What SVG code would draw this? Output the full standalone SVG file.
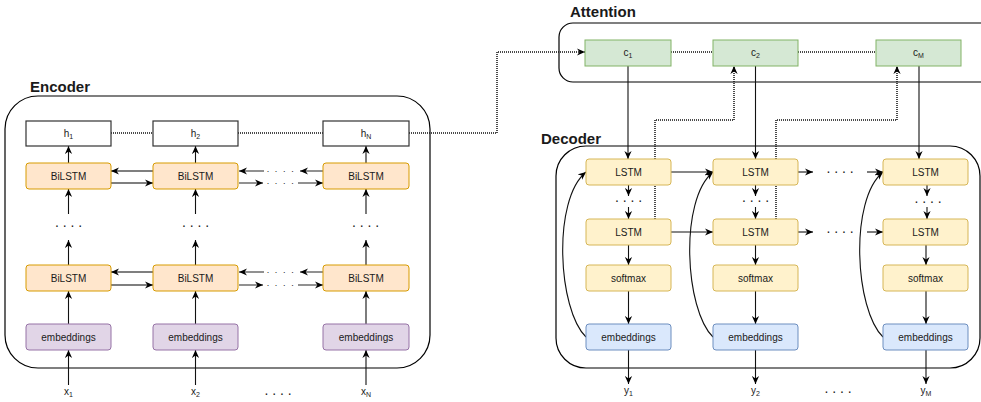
<svg xmlns="http://www.w3.org/2000/svg" width="981" height="402" viewBox="0 0 981 402">
<style>
text{font-family:"Liberation Sans",Arial,sans-serif;fill:#1a1a1a}
.t{font-size:10px;text-anchor:middle}
.d{font-size:14px;text-anchor:middle}
.ds{font-size:9px;text-anchor:middle;letter-spacing:1.6px}
.ttl{font-size:15px;font-weight:bold}
.ct{fill:none;stroke:#000;stroke-width:1.2}
.h{fill:#fff;stroke:#333;stroke-width:1.2}
.bl{fill:#ffe6cc;stroke:#d79b00}
.em{fill:#e1d5e7;stroke:#9673a6}
.c{fill:#d5e8d4;stroke:#82b366}
.l{fill:#fff2cc;stroke:#d6b656}
.de{fill:#dae8fc;stroke:#6c8ebf}
.a{fill:none;stroke:#111;stroke-width:1.1;marker-end:url(#ar)}
.g{fill:none;stroke:#555;stroke-width:1.3;marker-end:url(#ar)}
.dot{fill:none;stroke:#111;stroke-width:1.5;stroke-dasharray:1 1}
.dota{fill:none;stroke:#111;stroke-width:1.5;stroke-dasharray:1 1;marker-end:url(#ar)}
</style>
<defs>
<marker id="ar" viewBox="0 0 10 10" refX="10" refY="5" markerWidth="8" markerHeight="8" orient="auto" markerUnits="userSpaceOnUse"><path d="M0,0.5 L10,5 L0,9.5 L3,5 z" fill="#000"/></marker>
</defs>

<g id="containers">
<rect id="encoder-box" class="ct" x="5" y="96" width="425" height="272" rx="33"/>
<rect id="attention-box" class="ct" x="559" y="23" width="440" height="59" rx="14"/>
<rect id="decoder-box" class="ct" x="556" y="146" width="424" height="222" rx="30"/>
<text class="ttl" x="30" y="92">Encoder</text>
<text class="ttl" x="570" y="17">Attention</text>
<text class="ttl" x="541" y="144">Decoder</text>
</g>

<g id="connectors">
<!-- encoder verticals -->
<path class="a" d="M68.5,163V146"/><path class="a" d="M68.5,214V189"/><path class="a" d="M68.5,265V240"/><path class="a" d="M68.5,324V291"/><path class="a" d="M68.5,385V350"/>
<path class="a" d="M195.5,163V146"/><path class="a" d="M195.5,214V189"/><path class="a" d="M195.5,265V240"/><path class="a" d="M195.5,324V291"/><path class="a" d="M195.5,385V350"/>
<path class="a" d="M366,163V146"/><path class="a" d="M366,214V189"/><path class="a" d="M366,265V240"/><path class="a" d="M366,324V291"/><path class="a" d="M366,385V350"/>
<!-- encoder horizontals -->
<path class="g" d="M153,171H111"/><path class="g" d="M111,183H153"/><path class="g" d="M153,272H111"/><path class="g" d="M111,285H153"/>
<path class="g" d="M323,171H300"/><path class="g" d="M264,171H239"/><path class="g" d="M239,183H263"/><path class="g" d="M298,183H323"/>
<path class="g" d="M323,272H300"/><path class="g" d="M264,272H239"/><path class="g" d="M239,285H263"/><path class="g" d="M298,285H323"/>
<!-- h dotted -->
<path class="dot" d="M111,133H153"/><path class="dot" d="M238,133H323"/>
<path class="dota" d="M409,133H497V52H585"/>
<!-- attention dotted -->
<path class="dot" d="M671,52H713"/><path class="dot" d="M798,52H876"/>
<path class="dota" d="M655,219V120H734V66"/>
<path class="dota" d="M776,219V120H897V66"/>
<!-- context to LSTM -->
<path class="a" d="M628,66V159"/><path class="a" d="M755.5,66V159"/><path class="a" d="M919,66V159"/>
<!-- decoder verticals -->
<path class="a" d="M628.5,185V196"/><path class="a" d="M628.5,207V219"/><path class="a" d="M628.5,245V265"/><path class="a" d="M628.5,291V324"/><path class="a" d="M628.5,350V384"/>
<path class="a" d="M755.5,185V196"/><path class="a" d="M755.5,207V219"/><path class="a" d="M755.5,245V265"/><path class="a" d="M755.5,291V324"/><path class="a" d="M755.5,350V384"/>
<path class="a" d="M927,185V196"/><path class="a" d="M927,207V219"/><path class="a" d="M926,245V265"/><path class="a" d="M926,291V324"/><path class="a" d="M926,350V384"/>
<!-- decoder horizontals -->
<path class="a" d="M671,172H713"/><path class="a" d="M671,232H713"/>
<path class="a" d="M798,172H813"/><path class="a" d="M867,172H883"/>
<path class="a" d="M798,232H813"/><path class="a" d="M867,232H883"/>
<!-- feedback curves -->
<path class="a" d="M586,337C558,310 552,200 586,172"/>
<path class="a" d="M713,337C685,310 679,200 713,172"/>
<path class="a" d="M883,337C855,310 849,200 883,172"/>
</g>

<g id="dots">
<text class="d" x="68.5" y="227">. . . .</text>
<text class="d" x="195.5" y="227">. . . .</text>
<text class="d" x="365.5" y="227">. . . .</text>
<text class="ds" x="281" y="172">. . . .</text>
<text class="ds" x="281" y="184">. . . .</text>
<text class="ds" x="281" y="273">. . . .</text>
<text class="ds" x="281" y="286">. . . .</text>
<text class="d" x="278" y="395">. . . .</text>
<text class="d" x="628.5" y="202">. . . .</text>
<text class="d" x="755.5" y="202">. . . .</text>
<text class="d" x="928" y="203">. . . .</text>
<text class="d" x="840" y="173">. . . .</text>
<text class="d" x="840" y="233">. . . .</text>
<text class="d" x="838" y="393">. . . .</text>
</g>

<g id="enc-col1">
<rect class="h" x="26" y="121" width="85" height="25"/><text class="t" x="68.5" y="137">h<tspan font-size="7" dy="2">1</tspan></text>
<rect class="bl" x="26" y="163" width="85" height="26" rx="3"/><text class="t" x="68.5" y="180">BiLSTM</text>
<rect class="bl" x="26" y="265" width="85" height="26" rx="3"/><text class="t" x="68.5" y="282">BiLSTM</text>
<rect class="em" x="26" y="324" width="85" height="26" rx="3"/><text class="t" x="68.5" y="341">embeddings</text>
<text class="t" x="68.5" y="395">x<tspan font-size="7" dy="2">1</tspan></text>
</g>
<g id="enc-col2">
<rect class="h" x="153" y="121" width="85" height="25"/><text class="t" x="195.5" y="137">h<tspan font-size="7" dy="2">2</tspan></text>
<rect class="bl" x="153" y="163" width="85" height="26" rx="3"/><text class="t" x="195.5" y="180">BiLSTM</text>
<rect class="bl" x="153" y="265" width="85" height="26" rx="3"/><text class="t" x="195.5" y="282">BiLSTM</text>
<rect class="em" x="153" y="324" width="85" height="26" rx="3"/><text class="t" x="195.5" y="341">embeddings</text>
<text class="t" x="195.5" y="395">x<tspan font-size="7" dy="2">2</tspan></text>
</g>
<g id="enc-colN">
<rect class="h" x="323" y="121" width="86" height="25"/><text class="t" x="366" y="137">h<tspan font-size="7" dy="2">N</tspan></text>
<rect class="bl" x="323" y="163" width="86" height="26" rx="3"/><text class="t" x="366" y="180">BiLSTM</text>
<rect class="bl" x="323" y="265" width="86" height="26" rx="3"/><text class="t" x="366" y="282">BiLSTM</text>
<rect class="em" x="323" y="324" width="86" height="26" rx="3"/><text class="t" x="366" y="341">embeddings</text>
<text class="t" x="366" y="395">x<tspan font-size="7" dy="2">N</tspan></text>
</g>

<g id="attention-nodes">
<g id="c1"><rect class="c" x="585" y="40" width="86" height="26"/><text class="t" x="628" y="56">c<tspan font-size="7" dy="2">1</tspan></text></g>
<g id="c2"><rect class="c" x="713" y="40" width="85" height="26"/><text class="t" x="755.5" y="56">c<tspan font-size="7" dy="2">2</tspan></text></g>
<g id="cM"><rect class="c" x="876" y="40" width="85" height="26"/><text class="t" x="918.5" y="56">c<tspan font-size="7" dy="2">M</tspan></text></g>
</g>

<g id="dec-col1">
<rect class="l" x="586" y="159" width="85" height="26" rx="3"/><text class="t" x="628.5" y="176">LSTM</text>
<rect class="l" x="586" y="219" width="85" height="26" rx="3"/><text class="t" x="628.5" y="236">LSTM</text>
<rect class="l" x="586" y="265" width="85" height="26" rx="3"/><text class="t" x="628.5" y="282">softmax</text>
<rect class="de" x="586" y="324" width="85" height="26" rx="3"/><text class="t" x="628.5" y="341">embeddings</text>
<text class="t" x="628.5" y="394">y<tspan font-size="7" dy="2">1</tspan></text>
</g>
<g id="dec-col2">
<rect class="l" x="713" y="159" width="85" height="26" rx="3"/><text class="t" x="755.5" y="176">LSTM</text>
<rect class="l" x="713" y="219" width="85" height="26" rx="3"/><text class="t" x="755.5" y="236">LSTM</text>
<rect class="l" x="713" y="265" width="85" height="26" rx="3"/><text class="t" x="755.5" y="282">softmax</text>
<rect class="de" x="713" y="324" width="85" height="26" rx="3"/><text class="t" x="755.5" y="341">embeddings</text>
<text class="t" x="755.5" y="394">y<tspan font-size="7" dy="2">2</tspan></text>
</g>
<g id="dec-colM">
<rect class="l" x="883" y="159" width="85" height="26" rx="3"/><text class="t" x="925.5" y="176">LSTM</text>
<rect class="l" x="883" y="219" width="85" height="26" rx="3"/><text class="t" x="925.5" y="236">LSTM</text>
<rect class="l" x="883" y="265" width="85" height="26" rx="3"/><text class="t" x="925.5" y="282">softmax</text>
<rect class="de" x="883" y="324" width="85" height="26" rx="3"/><text class="t" x="925.5" y="341">embeddings</text>
<text class="t" x="926" y="394">y<tspan font-size="7" dy="2">M</tspan></text>
</g>
</svg>
